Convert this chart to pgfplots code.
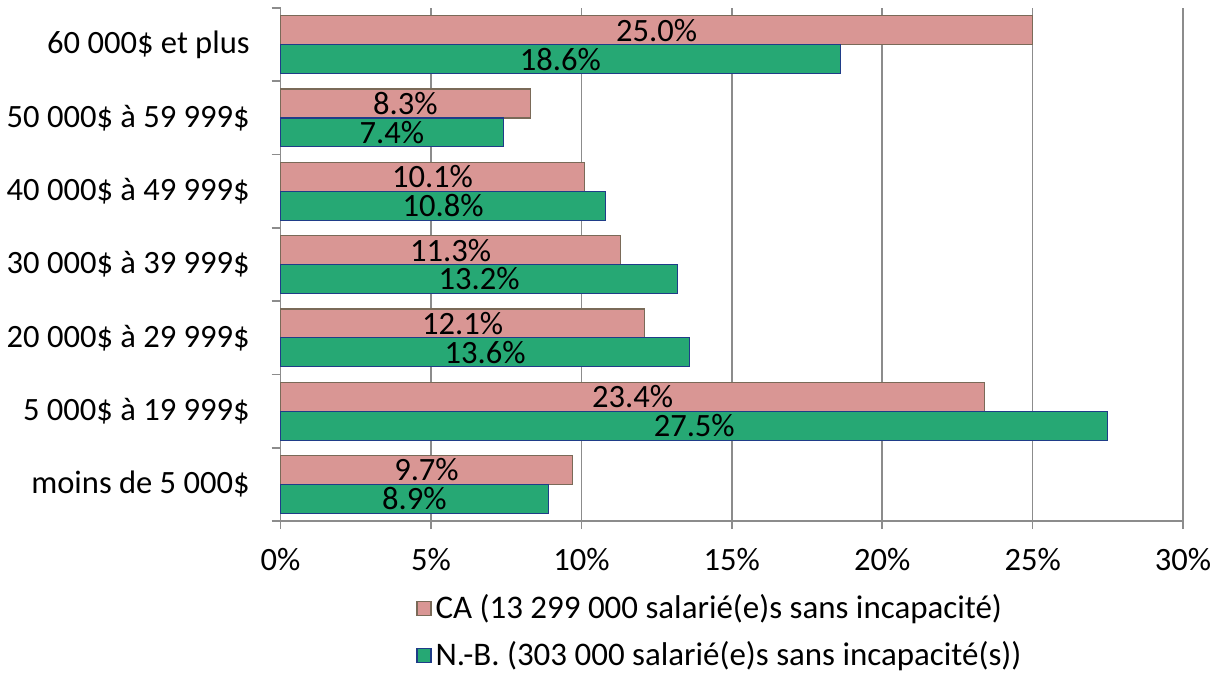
\documentclass[border=0pt]{standalone}
\usepackage{pgfplots}
\pgfplotsset{compat=1.18}
\usepackage{fontspec}
\setmainfont{Carlito}
\definecolor{capink}{RGB}{217,150,148}
\definecolor{caedge}{RGB}{122,106,88}
\definecolor{nbgreen}{RGB}{38,168,116}
\definecolor{nbedge}{RGB}{31,60,136}
\definecolor{gridgray}{RGB}{140,140,140}

\begin{document}
\begin{tikzpicture}
\begin{axis}[
  scale only axis,
  width=452pt, height=257pt,
  xmin=0, xmax=30, ymin=-0.5, ymax=6.5,
  xbar, bar width=14.5pt,
  axis lines*=left,
  axis line style={gridgray, line width=0.8pt},
  tick align=outside,
  xtick={0,5,...,30},
  xticklabel={\pgfmathprintnumber{\tick}\%},
  xmajorgrids, grid style={gridgray, line width=0.8pt},
  major x tick style={gridgray, line width=0.8pt},
  major tick length=4pt,
  ytick={0,...,6},
  yticklabels={moins de 5 000\$, 5 000\$ à 19 999\$, 20 000\$ à 29 999\$,
    30 000\$ à 39 999\$, 40 000\$ à 49 999\$, 50 000\$ à 59 999\$, 60 000\$ et plus},
  major y tick style={draw=none},
  minor ytick={-0.5,0.5,...,6.5},
  minor y tick style={gridgray, line width=0.8pt},
  minor tick length=4.5pt,
  yticklabel style={xshift=-8pt},
  xticklabel style={yshift=-6pt},
  /pgf/number format/assume math mode=true,
  tick label style={font=\fontsize{16.3}{19}\selectfont},
  nodes near coords={\pgfmathprintnumber[fixed,fixed zerofill,precision=1]{\pgfplotspointmeta}\%},
  point meta=x,
  visualization depends on={x \as \xv},
  every node near coord/.append style={anchor=center, xshift=-\xv*7.5333pt,
    font=\fontsize{16.3}{19}\selectfont, text=black, inner sep=0pt},
  legend style={at={(0.15,-0.135)}, anchor=north west, draw=none,
    font=\fontsize{16.5}{19}\selectfont, row sep=6pt, cells={anchor=west},
    inner sep=0pt},
  legend image code/.code={\draw[#1] (0pt,-3.5pt) rectangle (7pt,3.5pt);},
  clip=false,
]
\addplot[fill=capink, draw=caedge, line width=0.6pt, bar shift=7.25pt]
  coordinates {(9.7,0) (23.4,1) (12.1,2) (11.3,3) (10.1,4) (8.3,5) (25.0,6)};
\addlegendentry{CA (13 299 000 salarié(e)s sans incapacité)}
\addplot[fill=nbgreen, draw=nbedge, line width=0.6pt, bar shift=-7.25pt]
  coordinates {(8.9,0) (27.5,1) (13.6,2) (13.2,3) (10.8,4) (7.4,5) (18.6,6)};
\addlegendentry{N.-B. (303 000 salarié(e)s sans incapacité(s))}
\end{axis}
\path (-139.5pt,-77.5pt) rectangle (472.5pt,261pt);
\end{tikzpicture}
\end{document}
